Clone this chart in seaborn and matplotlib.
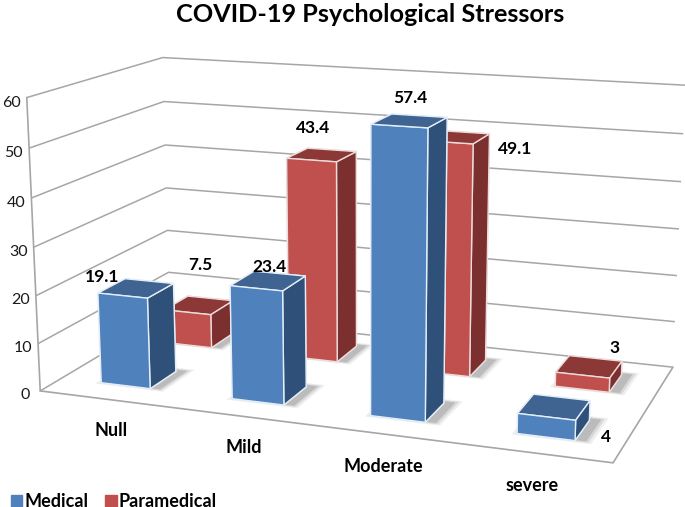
import matplotlib
matplotlib.use("Agg")
import matplotlib.pyplot as plt
import seaborn as sns
from matplotlib.patches import Patch
from mpl_toolkits.mplot3d import proj3d

categories = ["Null", "Mild", "Moderate", "severe"]
medical = [19.1, 23.4, 57.4, 4]
paramedical = [7.5, 43.4, 49.1, 3]
z_ticks = [0, 10, 20, 30, 40, 50, 60]

# label offsets from the bar top centre, in pixels
med_offsets = [(-34, 11), (1, 14), (1, 23), (52, -30)]
para_offsets = [(1, 40), (-9, 27), (60, -12), (25, 19)]

# faces: -z, +z, -y (front), +y, -x, +x (side)
MED_FACES = ["#4f81bd", "#3f6491", "#4f81bd", "#3f6491", "#2f5179", "#2f5179"]
PARA_FACES = ["#c0504d", "#8c3836", "#c0504d", "#8c3836", "#7b2f2e", "#7b2f2e"]
GRID = "#a6a6a6"

sns.set_theme(style="white")
plt.rcParams["font.family"] = ["Lato", "DejaVu Sans"]

fig = plt.figure(figsize=(6.85, 5.07), dpi=100)
# square axes centred on the box centre, it overflows the figure on purpose
ax = fig.add_axes([55 / 685, -39 / 507, 600 / 685, 600 / 507], projection="3d")
ax.patch.set_alpha(0)
ax.computed_zorder = False
ax.set_proj_type("persp", focal_length=0.545)
ax.view_init(elev=13.8, azim=-70)
ax.set_box_aspect((1.93, 0.974, 0.985), zoom=1.155)

ax.set_xlim(0, 4)
ax.set_ylim(0, 2)
ax.set_zlim(0, 60)
ax.set_xticks([])
ax.set_yticks([])
ax.set_zticks(z_ticks)
ax.set_zticklabels([])
ax.tick_params(axis="z", length=0)
for axis in (ax.xaxis, ax.yaxis, ax.zaxis):
    axis.set_pane_color((1, 1, 1, 0))
    axis.pane.set_edgecolor((1, 1, 1, 0))
    axis.line.set_color((1, 1, 1, 0))
    axis._axinfo["grid"].update(color=GRID, linewidth=1.1)
    axis._axinfo["tick"].update(inward_factor=0, outward_factor=0)
ax.grid(True)

# frame: left wall upright, floor front and right edges
ax.plot([0, 0], [0, 0], [0, 60], color=GRID, lw=1.2, zorder=1, clip_on=False)
ax.plot([0, 4, 4], [0, 0, 2], [0, 0, 0], color=GRID, lw=1.2, zorder=1, clip_on=False)

w, d = 0.38, 0.4
x0, row_med, row_para = 0.31, 0.30, 1.30


def draw_bar(i, y, h, faces, edge, z):
    for grow, alpha in [(0.05, 0.04), (0.03, 0.06), (0.01, 0.09)]:
        ax.bar3d(i + x0 - grow + 0.02, y - grow + 0.02, 0, w + 2 * grow + 0.04, d + 2 * grow + 0.01, 0,
                 color=(0.2, 0.2, 0.2, alpha), shade=False, linewidth=0, zorder=z - 1)
    ax.bar3d(i + x0, y, 0, w, d, h, color=faces, edgecolor=edge, linewidth=1.0,
             shade=False, zorder=z)


for i, p in enumerate(paramedical):
    draw_bar(i, row_para, p, PARA_FACES, "#ecdcdb", 10 + 2 * i)
for i, m in enumerate(medical):
    draw_bar(i, row_med, m, MED_FACES, "#e4eef8", 30 + 2 * i)

M = ax.get_proj()


def label_bar(text, i, y, h, off):
    px, py, _ = proj3d.proj_transform(i + x0 + w / 2, y + d / 2, h, M)
    ax.annotate(text, (px, py), xytext=off, textcoords="offset pixels", ha="center", va="center",
                fontsize=12.5, fontweight="bold", color="black", zorder=60, annotation_clip=False)


for i, m in enumerate(medical):
    label_bar(str(m), i, row_med, m, med_offsets[i])
for i, p in enumerate(paramedical):
    label_bar(str(p), i, row_para, p, para_offsets[i])

for z in z_ticks:
    ax.text(-0.12, 0, z - 1.2, str(z), ha="center", va="center", fontsize=11.5, color="#1a1a1a", zorder=60)
for i, c in enumerate(categories):
    ax.text(i * 0.933 + 0.83, -0.53, 0, c, ha="center", va="center", fontsize=13, fontweight="bold",
            color="black", zorder=60)

fig.text(370 / 685, 1 - 15 / 507, "COVID-19 Psychological Stressors", ha="center", va="center",
         fontsize=18.2, fontweight="bold", color="black")
fig.legend(handles=[Patch(color="#4f81bd", label="Medical"), Patch(color="#c0504d", label="Paramedical")],
           loc="lower left", bbox_to_anchor=(0.005, -0.02), ncol=2, frameon=False,
           prop={"size": 13, "weight": "bold"}, handlelength=0.65, handleheight=0.65,
           columnspacing=0.95, handletextpad=0.1, borderpad=0.2, borderaxespad=0.2, labelcolor="black")
fig.savefig("out.png", dpi=100)
